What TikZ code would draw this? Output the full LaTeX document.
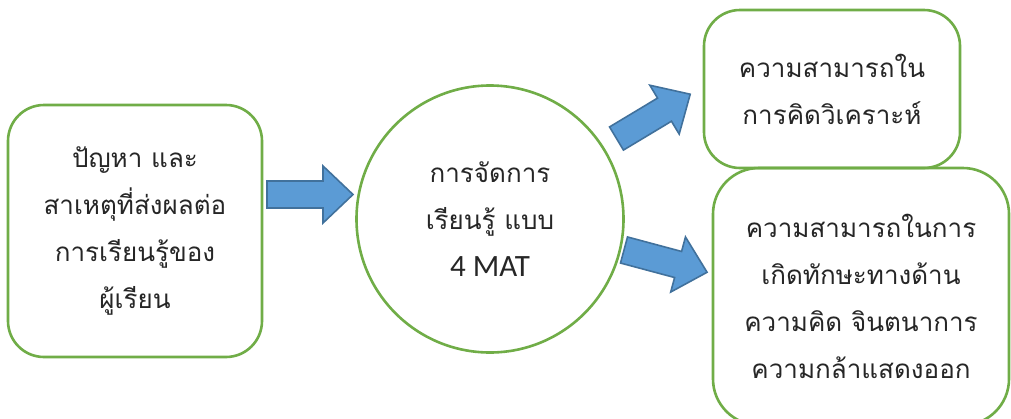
\documentclass[tikz,border=0pt]{standalone}
\usepackage{fontspec}
\newfontfamily\thaifont[Script=Thai]{Loma}
\newfontfamily\latinfont{Carlito}
\begin{document}
\begin{tikzpicture}[x=1pt,y=-1pt,
  txt/.style={font=\thaifont\fontsize{26}{47}\selectfont, text=black!85, align=center, inner sep=0pt},
  greenbox/.style={txt, draw=grn, line width=2.6pt},
  barrow/.style={fill=arrowfill, draw=arrowdraw, line width=1.6pt, line join=miter},
  blockarrow/.pic={\path[barrow] (0,-13.5) -- (56,-13.5) -- (56,-28.5) -- (86,0) -- (56,28.5) -- (56,13.5) -- (0,13.5) -- cycle;}
]
\definecolor{grn}{HTML}{70AD47}
\definecolor{arrowfill}{HTML}{5B9BD5}
\definecolor{arrowdraw}{HTML}{41719C}
\useasboundingbox (0,0) rectangle (1011,418);
\clip (0,0) rectangle (1011,418);
\fill[white] (0,0) rectangle (1011,418);

\node[greenbox, rounded corners=36pt, minimum width=254pt, minimum height=252pt] (problem) at (135,231)
  {ปัญหา และ\\สาเหตุที่ส่งผลต่อ\\การเรียนรู้ของ\\ผู้เรียน};
\node[greenbox, circle, minimum size=267pt] (mat) at (490,219)
  {การจัดการ\\เรียนรู้ แบบ\\{\latinfont\fontsize{31}{47}\selectfont 4 MAT}};
\node[greenbox, rounded corners=36pt, minimum width=256pt, minimum height=158pt] (analysis) at (832,89)
  {ความสามารถใน\\การคิดวิเคราะห์};
\node[greenbox, rounded corners=46pt, minimum width=296pt, minimum height=257pt] (skills) at (861,296.5)
  {ความสามารถในการ\\เกิดทักษะทางด้าน\\ความคิด จินตนาการ\\ความกล้าแสดงออก};

\pic at (267,194.5) {blockarrow};
\pic[rotate=31] at (616.5,138.5) {blockarrow};
\pic[rotate=-15] at (624,250) {blockarrow};
\end{tikzpicture}
\end{document}
